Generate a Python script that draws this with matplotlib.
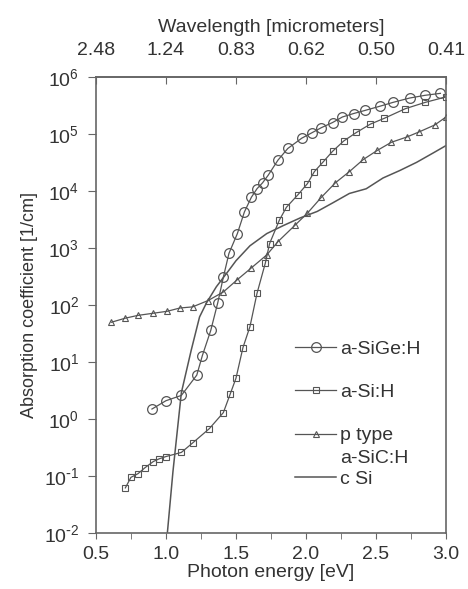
import numpy as np
import matplotlib
matplotlib.use("Agg")
import matplotlib.pyplot as plt
from matplotlib.lines import Line2D
from matplotlib.ticker import NullLocator, MultipleLocator, FuncFormatter

plt.rcParams["font.family"] = ["Liberation Sans", "DejaVu Sans"]
plt.rcParams["mathtext.default"] = "regular"
plt.rcParams["axes.unicode_minus"] = False

# Dados (energia em eV, coeficiente de absorção em 1/cm)
sige_E = [0.90, 1.00, 1.11, 1.22, 1.26, 1.32, 1.37, 1.41, 1.45, 1.51,
          1.56, 1.61, 1.65, 1.69, 1.73, 1.80, 1.87, 1.97, 2.04, 2.11,
          2.19, 2.26, 2.34, 2.42, 2.53, 2.62, 2.74, 2.85, 2.96]
sige_a = [1.5, 2.1, 2.6, 5.9, 13, 36, 110, 310, 810, 1800,
          4300, 7800, 1.1e4, 1.4e4, 1.9e4, 3.5e4, 5.6e4, 8.5e4, 1.05e5, 1.3e5,
          1.6e5, 2.0e5, 2.3e5, 2.6e5, 3.1e5, 3.6e5, 4.3e5, 4.8e5, 5.2e5]

sih_E = [0.71, 0.75, 0.80, 0.85, 0.91, 0.95, 1.00, 1.11, 1.19, 1.31,
         1.41, 1.46, 1.50, 1.55, 1.60, 1.65, 1.71, 1.74, 1.81, 1.86,
         1.94, 2.01, 2.06, 2.12, 2.19, 2.27, 2.36, 2.46, 2.56, 2.71,
         2.85, 3.00]
sih_a = [0.062, 0.095, 0.11, 0.14, 0.18, 0.20, 0.22, 0.26, 0.38, 0.68,
         1.3, 2.8, 5.2, 18, 42, 160, 550, 1200, 3100, 5200,
         8500, 1.35e4, 2.2e4, 3.2e4, 5.0e4, 7.6e4, 1.07e5, 1.5e5, 1.9e5, 2.8e5,
         3.6e5, 4.5e5]

sic_E = [0.61, 0.71, 0.80, 0.91, 1.01, 1.10, 1.19, 1.30, 1.41, 1.51,
         1.61, 1.72, 1.80, 1.92, 2.01, 2.11, 2.21, 2.31, 2.41, 2.51,
         2.61, 2.72, 2.81, 2.92, 3.00]
sic_a = [50, 59, 66, 72, 78, 89, 93, 120, 170, 280,
         450, 760, 1300, 2500, 4100, 7800, 1.4e4, 2.2e4, 3.6e4, 5.2e4,
         7.2e4, 8.9e4, 1.1e5, 1.45e5, 2.0e5]

csi_E = [1.01, 1.05, 1.11, 1.18, 1.24, 1.29, 1.36, 1.45, 1.50, 1.60,
         1.72, 1.84, 1.96, 2.08, 2.19, 2.31, 2.43, 2.55, 2.67, 2.79,
         2.91, 3.00]
csi_a = [0.01, 0.12, 2.9, 16, 62, 110, 210, 410, 600, 1100,
         1800, 2500, 3400, 4400, 6200, 9100, 1.1e4, 1.7e4, 2.3e4, 3.2e4,
         4.7e4, 6.3e4]

energy_ticks = [0.5, 1.0, 1.5, 2.0, 2.5, 3.0]
wl_labels = ["2.48", "1.24", "0.83", "0.62", "0.50", "0.41"]
alpha_ticks = [1e-2, 1e-1, 1e0, 1e1, 1e2, 1e3, 1e4, 1e5, 1e6]

line_col = "#555555"
text_col = "#333333"


def pot10(v, pos):
    # rótulo 10^n com hífen simples no expoente, como no original
    n = int(round(np.log10(v)))
    if n < 0:
        return r"$10^{\text{-}%d}$" % (-n)
    return r"$10^{%d}$" % n


fig = plt.figure(figsize=(4.68, 5.89), dpi=100)
ax = fig.add_axes([0.205, 0.095, 0.748, 0.774])

l_sige, = ax.plot(sige_E, sige_a, "-o", color=line_col, lw=0.9, ms=7,
                  mfc="none", mew=0.9)
l_sih, = ax.plot(sih_E, sih_a, "-s", color=line_col, lw=0.9, ms=4,
                 mfc="none", mew=0.8)
l_sic, = ax.plot(sic_E, sic_a, "-^", color=line_col, lw=0.9, ms=5,
                 mfc="none", mew=0.8)
l_csi, = ax.plot(csi_E, csi_a, "-", color=line_col, lw=1.1)

ax.set_yscale("log")
ax.set_xlim(0.5, 3.0)
ax.set_ylim(1e-2, 1e6)
ax.set_yticks(alpha_ticks)
ax.yaxis.set_minor_locator(NullLocator())
ax.yaxis.set_major_formatter(FuncFormatter(pot10))
ax.set_xticks(energy_ticks)
ax.xaxis.set_minor_locator(MultipleLocator(0.25))

for sp in ax.spines.values():
    sp.set_color("#666666")
    sp.set_linewidth(1.2)

ax.tick_params(axis="x", which="both", direction="out", top=False,
               labelsize=14, colors="#666666", labelcolor=text_col,
               length=4, pad=5)
ax.tick_params(axis="y", which="both", direction="out", right=False,
               labelsize=14, colors="#666666", labelcolor=text_col,
               length=6, pad=6)

ax.set_xlabel("Photon energy [eV]", fontsize=14, color=text_col, labelpad=1)
ax.set_ylabel("Absorption coefficient [1/cm]", fontsize=13, color=text_col,
              labelpad=4)

# Eixo superior: comprimento de onda
secax = ax.secondary_xaxis("top")
secax.set_xticks(energy_ticks, labels=wl_labels)
secax.tick_params(direction="in", length=5, pad=13, labelsize=14,
                  colors="#666666", labelcolor=text_col)
secax.spines["top"].set_color("#666666")
secax.spines["top"].set_linewidth(1.2)
secax.set_xlabel("Wavelength [micrometers]", fontsize=14, color=text_col,
                 labelpad=7)

# Legendas
leg1 = ax.legend([l_sige, l_sih, l_sic], ["a-SiGe:H", "a-Si:H", "p type"],
                 loc="upper left", bbox_to_anchor=(0.569, 0.423),
                 frameon=False, fontsize=14, handlelength=2.1,
                 handletextpad=0.2, labelspacing=1.32, borderpad=0,
                 borderaxespad=0, labelcolor=text_col)
ax.add_artist(leg1)
blank = Line2D([], [], linestyle="none")
ax.legend([blank, l_csi], ["a-SiC:H", "c Si"],
          loc="upper left", bbox_to_anchor=(0.569, 0.184),
          frameon=False, fontsize=14, handlelength=2.1,
          handletextpad=0.2, labelspacing=0.2, borderpad=0,
          borderaxespad=0, labelcolor=text_col)

fig.savefig("out.png", dpi=100)
